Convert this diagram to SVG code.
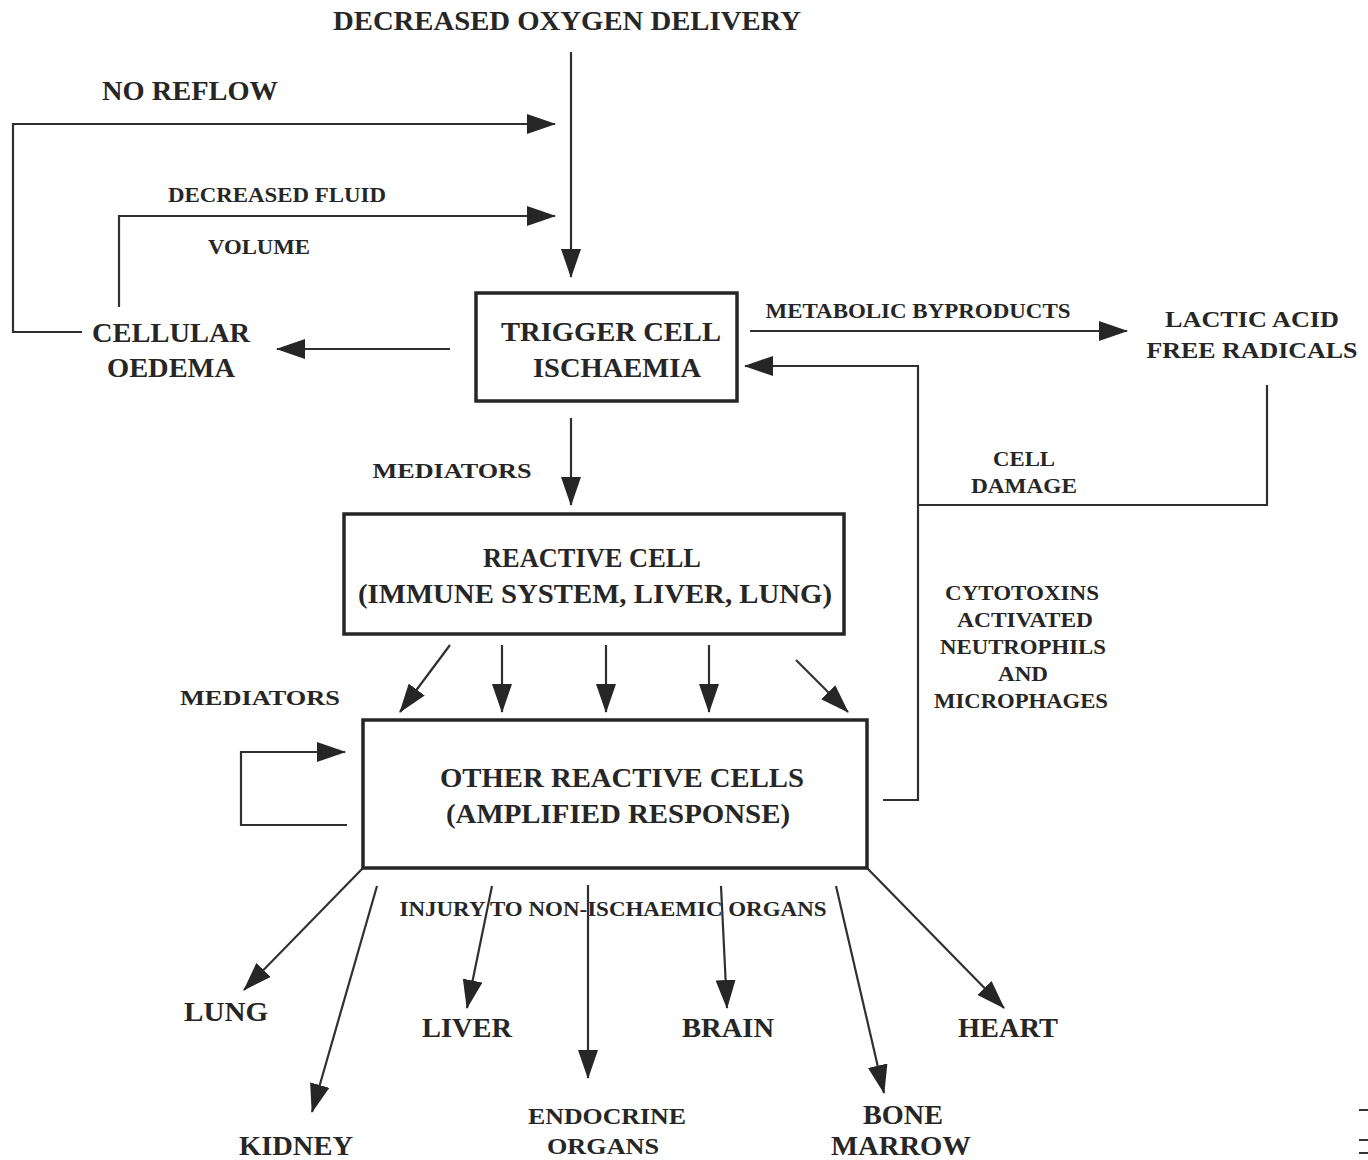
<svg xmlns="http://www.w3.org/2000/svg" width="1368" height="1160" viewBox="0 0 1368 1160">
<style>
text{font-family:"Liberation Serif","DejaVu Serif","Times New Roman",serif;font-weight:bold;fill:#262626;text-anchor:middle}
.big{font-size:27px}
.mid{font-size:24px}
.sm{font-size:21px}
.box{fill:none;stroke:#262626;stroke-width:3.5}
.ln{fill:none;stroke:#303030;stroke-width:2.2}
.ar{marker-end:url(#ah)}
</style>
<defs>
<marker id="ah" markerUnits="userSpaceOnUse" markerWidth="30" markerHeight="20" viewBox="0 0 30 20" refX="28" refY="10" orient="auto">
<path d="M0,0 L29,10 L0,20 Z" fill="#262626"/>
</marker>
</defs>
<rect width="1368" height="1160" fill="#fff"/>

<g id="connectors">
<path class="ln ar" d="M571,52 V277"/>
<path class="ln ar" d="M82,332 H13 V124 H555"/>
<path class="ln ar" d="M119,307 V216 H555"/>
<path class="ln ar" d="M450,349 H277"/>
<path class="ln ar" d="M750,331 H1127"/>
<path class="ln ar" d="M883,800 H918 V366 H745"/>
<path class="ln" d="M1267,385 V505 H918"/>
<path class="ln ar" d="M571,418 V505"/>
<path class="ln ar" d="M450,645 L400,712"/>
<path class="ln ar" d="M502,645 V712"/>
<path class="ln ar" d="M606,645 V712"/>
<path class="ln ar" d="M709,645 V712"/>
<path class="ln ar" d="M796,660 L848,712"/>
<path class="ln ar" d="M347,825 H241 V752 H345"/>
<path class="ln ar" d="M363,868 L244,990"/>
<path class="ln ar" d="M377,886 L312,1112"/>
<path class="ln ar" d="M492,886 L467,1008"/>
<path class="ln ar" d="M588,885 V1078"/>
<path class="ln ar" d="M721,886 L727,1008"/>
<path class="ln ar" d="M836,886 L884,1093"/>
<path class="ln ar" d="M867,868 L1004,1008"/>
</g>

<g id="decreased-oxygen"><text class="big" x="567" y="30" textLength="468" lengthAdjust="spacingAndGlyphs">DECREASED OXYGEN DELIVERY</text></g>
<g id="no-reflow-label"><text class="big" x="190" y="100" textLength="176" lengthAdjust="spacingAndGlyphs">NO REFLOW</text></g>
<g id="fluid-label">
<text class="sm" x="277" y="202" textLength="218" lengthAdjust="spacingAndGlyphs">DECREASED FLUID</text>
<text class="sm" x="259" y="254" textLength="102" lengthAdjust="spacingAndGlyphs">VOLUME</text>
</g>
<g id="cellular-oedema">
<text class="big" x="171" y="342" textLength="158" lengthAdjust="spacingAndGlyphs">CELLULAR</text>
<text class="big" x="171" y="377" textLength="128" lengthAdjust="spacingAndGlyphs">OEDEMA</text>
</g>
<g id="trigger-cell">
<rect class="box" x="476" y="293" width="261" height="108"/>
<text class="big" x="611" y="341" textLength="220" lengthAdjust="spacingAndGlyphs">TRIGGER CELL</text>
<text class="big" x="617" y="377" textLength="168" lengthAdjust="spacingAndGlyphs">ISCHAEMIA</text>
</g>
<g id="metabolic-label"><text class="sm" x="918" y="318" textLength="305" lengthAdjust="spacingAndGlyphs">METABOLIC BYPRODUCTS</text></g>
<g id="lactic-acid">
<text class="mid" x="1252" y="327" textLength="174" lengthAdjust="spacingAndGlyphs">LACTIC ACID</text>
<text class="mid" x="1252" y="358" textLength="211" lengthAdjust="spacingAndGlyphs">FREE RADICALS</text>
</g>
<g id="cell-damage-label">
<text class="sm" x="1024" y="466" textLength="62" lengthAdjust="spacingAndGlyphs">CELL</text>
<text class="sm" x="1024" y="493" textLength="106" lengthAdjust="spacingAndGlyphs">DAMAGE</text>
</g>
<g id="cytotoxins-label">
<text class="sm" x="1022" y="600" textLength="154" lengthAdjust="spacingAndGlyphs">CYTOTOXINS</text>
<text class="sm" x="1025" y="627" textLength="136" lengthAdjust="spacingAndGlyphs">ACTIVATED</text>
<text class="sm" x="1023" y="654" textLength="166" lengthAdjust="spacingAndGlyphs">NEUTROPHILS</text>
<text class="sm" x="1023" y="681" textLength="50" lengthAdjust="spacingAndGlyphs">AND</text>
<text class="sm" x="1021" y="708" textLength="174" lengthAdjust="spacingAndGlyphs">MICROPHAGES</text>
</g>
<g id="mediators-1"><text class="sm" x="452" y="478" textLength="159" lengthAdjust="spacingAndGlyphs">MEDIATORS</text></g>
<g id="reactive-cell">
<rect class="box" x="344" y="514" width="500" height="120"/>
<text class="big" x="592" y="567" textLength="218" lengthAdjust="spacingAndGlyphs">REACTIVE CELL</text>
<text class="big" x="595" y="603" textLength="474" lengthAdjust="spacingAndGlyphs">(IMMUNE SYSTEM, LIVER, LUNG)</text>
</g>
<g id="mediators-2"><text class="sm" x="260" y="705" textLength="160" lengthAdjust="spacingAndGlyphs">MEDIATORS</text></g>
<g id="other-reactive">
<rect class="box" x="363" y="720" width="504" height="148"/>
<text class="big" x="622" y="787" textLength="364" lengthAdjust="spacingAndGlyphs">OTHER REACTIVE CELLS</text>
<text class="big" x="618" y="823" textLength="344" lengthAdjust="spacingAndGlyphs">(AMPLIFIED RESPONSE)</text>
</g>
<g id="injury-label"><text class="sm" x="613" y="916" textLength="427" lengthAdjust="spacingAndGlyphs">INJURY TO NON-ISCHAEMIC ORGANS</text></g>
<g id="lung"><text class="big" x="226" y="1021" textLength="84" lengthAdjust="spacingAndGlyphs">LUNG</text></g>
<g id="kidney"><text class="big" x="296" y="1155" textLength="114" lengthAdjust="spacingAndGlyphs">KIDNEY</text></g>
<g id="liver"><text class="big" x="467" y="1037" textLength="90" lengthAdjust="spacingAndGlyphs">LIVER</text></g>
<g id="endocrine">
<text class="mid" x="607" y="1124" textLength="158" lengthAdjust="spacingAndGlyphs">ENDOCRINE</text>
<text class="mid" x="603" y="1154" textLength="112" lengthAdjust="spacingAndGlyphs">ORGANS</text>
</g>
<g id="brain"><text class="big" x="728" y="1037" textLength="92" lengthAdjust="spacingAndGlyphs">BRAIN</text></g>
<g id="bone-marrow">
<text class="big" x="903" y="1124" textLength="80" lengthAdjust="spacingAndGlyphs">BONE</text>
<text class="big" x="901" y="1155" textLength="140" lengthAdjust="spacingAndGlyphs">MARROW</text>
</g>
<g id="heart"><text class="big" x="1008" y="1037" textLength="100" lengthAdjust="spacingAndGlyphs">HEART</text></g>

<g id="edge-marks" stroke="#333" stroke-width="2">
<line x1="1359" y1="1110" x2="1368" y2="1110"/>
<line x1="1359" y1="1140" x2="1368" y2="1140"/>
<line x1="1359" y1="1153" x2="1368" y2="1153"/>
</g>
</svg>
